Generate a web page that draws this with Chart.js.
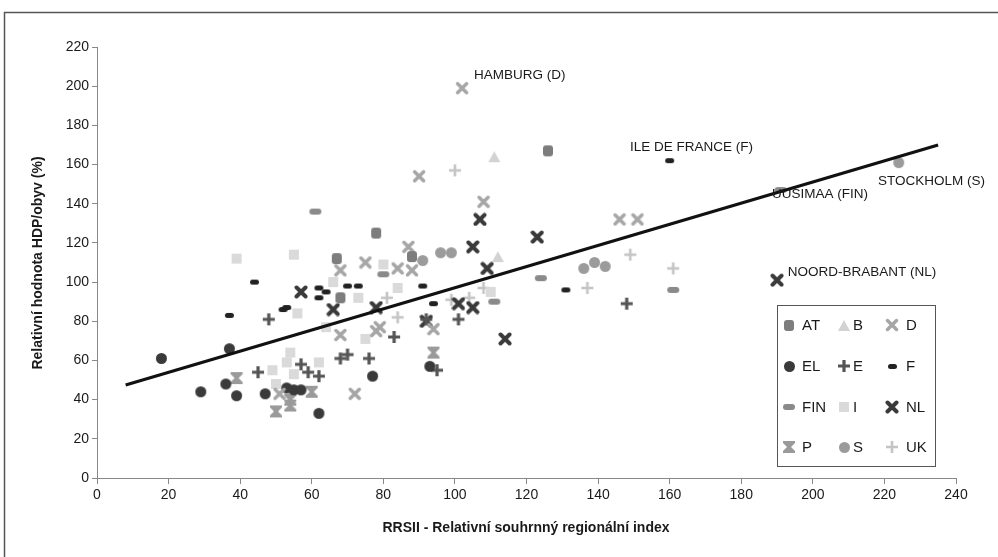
<!DOCTYPE html>
<html><head><meta charset="utf-8">
<script src="https://cdn.jsdelivr.net/npm/chart.js@4"></script>
<style>html,body{margin:0;padding:0;background:#fff}#wrap{width:998px;height:557px;position:relative}</style>
</head><body><div id="wrap"><canvas id="c" width="998" height="557"></canvas></div>
<script>
// ---- Data ----
const xTicks = [0,20,40,60,80,100,120,140,160,180,200,220,240];
const yTicks = [0,20,40,60,80,100,120,140,160,180,200,220];

const atX = [126,78,67,88,68];
const atY = [167,125,112,113,92];
const bX = [111,112];
const bY = [164,113];
const dX = [102,90,108,146,151,68,75,84,88,87,68,79,94,51,72,78];
const dY = [199,154,141,132,132,106,110,107,106,118,73,77,76,43,43,75];
const elX = [18,37,29,36,39,47,53,55,62,77,93,57];
const elY = [61,66,44,48,42,43,46,45,33,52,57,45];
const eX = [48,45,83,68,70,76,59,62,101,92,95,148,57];
const eY = [81,54,72,61,63,61,54,52,81,81,55,89,58];
const fX = [160,44,37,52,62,64,70,73,62,53,91,94,131];
const fY = [162,100,83,86,97,95,98,98,92,87,98,89,96];
const finX = [61,80,124,161,191,111];
const finY = [136,104,102,96,147,90];
const iX = [39,55,80,84,73,66,56,75,54,62,55,50,49,110,64,53];
const iY = [112,114,109,97,92,100,84,71,64,59,53,48,55,95,77,59];
const nlX = [57,66,78,105,107,123,109,101,105,114,92,190];
const nlY = [95,86,87,118,132,123,107,89,87,71,80,101];
const pX = [39,50,54,60,94,54];
const pY = [51,34,40,44,64,37];
const sX = [224,91,96,99,136,139,142];
const sY = [161,111,115,115,107,110,108];
const ukX = [100,84,108,104,99,149,161,137,81];
const ukY = [157,82,97,92,91,114,107,97,92];

const trendX = [8,235];
const trendY = [47.5,170];

const labelTexts = ['HAMBURG (D)','ILE DE FRANCE (F)','UUSIMAA (FIN)','STOCKHOLM (S)','NOORD-BRABANT (NL)'];
const labelX = [105.3,148.9,188.6,218.2,193];
const labelY = [205.7,169,145,151.6,105];

const seriesNames = ['AT','B','D','EL','E','F','FIN','I','NL','P','S','UK'];

// ---- Marker shapes ----
function mk(w,h,fn){const c=document.createElement('canvas');c.width=w;c.height=h;const g=c.getContext('2d');fn(g,w,h);return c;}
function rr(g,x,y,w,h,r){g.beginPath();g.moveTo(x+r,y);g.arcTo(x+w,y,x+w,y+h,r);g.arcTo(x+w,y+h,x,y+h,r);g.arcTo(x,y+h,x,y,r);g.arcTo(x,y,x+w,y,r);g.closePath();}
const shapes = {
  AT: mk(12,13,(g)=>{g.fillStyle='#7d7d7d';rr(g,1,1,10,11,3);g.fill();}),
  B: mk(14,13,(g)=>{g.fillStyle='#d2d2d2';g.beginPath();g.moveTo(7,1);g.lineTo(13,12);g.lineTo(1,12);g.closePath();g.fill();}),
  D: mk(14,14,(g)=>{g.strokeStyle='#a6a6a6';g.lineWidth=3.5;g.lineCap='round';g.beginPath();g.moveTo(2.5,2.5);g.lineTo(11.5,11.5);g.moveTo(11.5,2.5);g.lineTo(2.5,11.5);g.stroke();}),
  EL: mk(13,13,(g)=>{g.fillStyle='#3a3a3a';g.beginPath();g.arc(6.5,6.5,5.5,0,Math.PI*2);g.fill();}),
  E: mk(14,14,(g)=>{g.strokeStyle='#555';g.lineWidth=3.2;g.beginPath();g.moveTo(7,1);g.lineTo(7,13);g.moveTo(1,7);g.lineTo(13,7);g.stroke();}),
  F: mk(11,7,(g)=>{g.fillStyle='#222';rr(g,1,1,9,5,2.5);g.fill();}),
  FIN: mk(14,8,(g)=>{g.fillStyle='#8a8a8a';rr(g,1,1,12,6,3);g.fill();}),
  I: mk(12,12,(g)=>{g.fillStyle='#dadada';g.fillRect(1,1,10,10);}),
  NL: mk(14,14,(g)=>{g.strokeStyle='#3a3a3a';g.lineWidth=4;g.lineCap='round';g.beginPath();g.moveTo(2.5,2.5);g.lineTo(11.5,11.5);g.moveTo(11.5,2.5);g.lineTo(2.5,11.5);g.stroke();}),
  P: mk(14,14,(g)=>{g.fillStyle='#9a9a9a';g.beginPath();g.moveTo(1,1);g.lineTo(13,1);g.lineTo(13,3);g.lineTo(9,7);g.lineTo(13,11);g.lineTo(13,13);g.lineTo(1,13);g.lineTo(1,11);g.lineTo(5,7);g.lineTo(1,3);g.closePath();g.fill();}),
  S: mk(13,13,(g)=>{g.fillStyle='#9b9b9b';g.beginPath();g.arc(6.5,6.5,5.5,0,Math.PI*2);g.fill();}),
  UK: mk(14,14,(g)=>{g.strokeStyle='#c4c4c4';g.lineWidth=2.6;g.beginPath();g.moveTo(7,1);g.lineTo(7,13);g.moveTo(1,7);g.lineTo(13,7);g.stroke();})
};

const seriesX = [atX,bX,dX,elX,eX,fX,finX,iX,nlX,pX,sX,ukX];
const seriesY = [atY,bY,dY,elY,eY,fY,finY,iY,nlY,pY,sY,ukY];

const datasets = seriesNames.map((n,k)=>({
  type:'scatter', label:n,
  data: seriesX[k].map((x,j)=>({x:x,y:seriesY[k][j]})),
  pointStyle: shapes[n], pointRadius:6, pointHoverRadius:6, order:1
}));
datasets.push({
  type:'line', label:'trend',
  data: trendX.map((x,j)=>({x:x,y:trendY[j]})),
  borderColor:'#111', borderWidth:3.2, pointRadius:0, fill:false, order:0
});

const FONT = "'Liberation Sans Narrow','Liberation Sans',Arial,sans-serif";

const deco = {
  id:'deco',
  afterDatasetsDraw(chart){
    const {ctx, scales:{x,y}} = chart;
    ctx.save();
    ctx.beginPath();ctx.rect(0,0,990,557);ctx.clip();
    ctx.fillStyle='#1a1a1a';ctx.font="13.5px 'Liberation Sans',Arial,sans-serif";ctx.textBaseline='middle';ctx.textAlign='left';
    labelTexts.forEach((t,i)=>ctx.fillText(t,x.getPixelForValue(labelX[i]),y.getPixelForValue(labelY[i])));
    ctx.restore();
  },
  afterDraw(chart){
    const {ctx} = chart;
    ctx.save();
    // outer frame
    ctx.strokeStyle='#555';ctx.lineWidth=1.5;ctx.strokeRect(4.5,12.5,1100,700);
    // legend
    const L=777,T=305,R=935,B=466;
    ctx.fillStyle='#fff';ctx.fillRect(L,T,R-L,B-T);
    ctx.strokeStyle='#555';ctx.lineWidth=1;ctx.strokeRect(L+0.5,T+0.5,R-L,B-T);
    const colM=[789,844,892], colT=[802,853,906], rowY=[325,366,407,447];
    ctx.font="15px 'Liberation Sans',Arial,sans-serif";ctx.fillStyle='#1a1a1a';ctx.textBaseline='middle';ctx.textAlign='left';
    seriesNames.forEach((n,i)=>{
      const r=Math.floor(i/3), c=i%3; const im=shapes[n];
      ctx.drawImage(im, Math.round(colM[c]-im.width/2), Math.round(rowY[r]-im.height/2));
      ctx.fillText(n, colT[c], rowY[r]+1);
    });
    // axis titles
    ctx.font="bold 14px 'Liberation Sans',Arial,sans-serif";ctx.fillStyle='#1a1a1a';ctx.textAlign='center';
    ctx.fillText('RRSII - Relativní souhrnný regionální index', 526, 528);
    ctx.translate(38,263);ctx.rotate(-Math.PI/2);
    ctx.fillText('Relativní hodnota HDP/obyv (%)',0,0);
    ctx.restore();
  }
};

const tickFont = {family: FONT, size: 14};
new Chart(document.getElementById('c'), {
  type:'scatter',
  data:{datasets},
  options:{
    responsive:false, animation:false, devicePixelRatio:1,
    layout:{padding:{top:47,right:42,bottom:0,left:0}},
    plugins:{legend:{display:false},tooltip:{enabled:false}},
    scales:{
      x:{type:'linear',min:0,max:240,
        afterBuildTicks:(s)=>{s.ticks=xTicks.map(v=>({value:v}));},
        ticks:{color:'#1a1a1a',font:tickFont,padding:3,maxRotation:0},
        grid:{drawOnChartArea:false,drawTicks:true,tickLength:6,color:'#888'},
        border:{color:'#888',width:1},
        afterFit:(s)=>{s.height=79;}
      },
      y:{type:'linear',min:0,max:220,
        afterBuildTicks:(s)=>{s.ticks=yTicks.map(v=>({value:v}));},
        ticks:{color:'#1a1a1a',font:tickFont,padding:3},
        grid:{drawOnChartArea:false,drawTicks:true,tickLength:5,color:'#888'},
        border:{color:'#888',width:1},
        afterFit:(s)=>{s.width=97;}
      }
    }
  },
  plugins:[deco]
});
</script></body></html>
